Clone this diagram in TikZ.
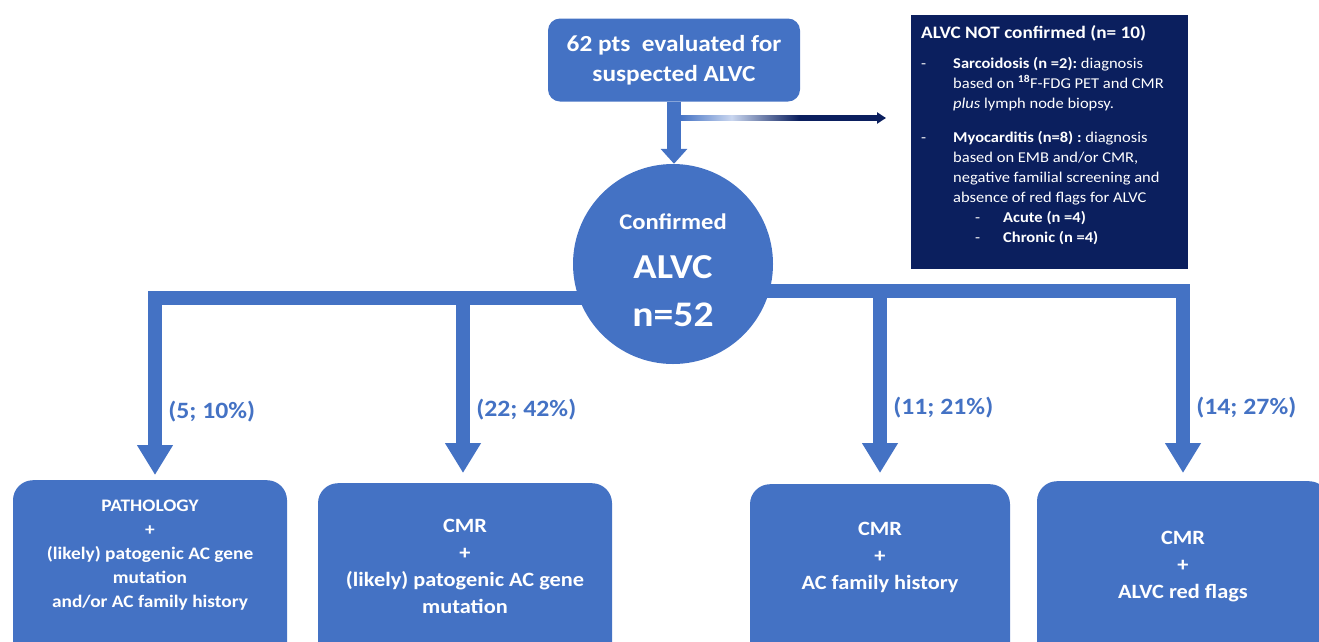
\documentclass[tikz,border=0pt]{standalone}
\usepackage{fontspec}
\setmainfont[FakeStretch=1.1]{Carlito}
\usetikzlibrary{arrows.meta,positioning}
\definecolor{boxblue}{HTML}{4472C4}
\definecolor{navyblue}{HTML}{0B1F5E}
\definecolor{fadeblue}{HTML}{C9D6EF}
\pgfdeclarehorizontalshading{arrowfade}{100bp}{color(0bp)=(boxblue); color(25bp)=(boxblue); color(38bp)=(fadeblue); color(55bp)=(navyblue); color(100bp)=(navyblue)}
\tikzstyle{Start}=[rectangle, rounded corners=12pt, fill=boxblue, text=white, font=\fontsize{23}{30}\selectfont\bfseries, align=center, minimum width=252pt, minimum height=83pt, inner sep=0pt]
\tikzstyle{Confirmed}=[circle, fill=boxblue, text=white, minimum size=200pt, inner sep=0pt, align=center, font=\bfseries]
\tikzstyle{Excluded}=[rectangle, fill=navyblue, text=white, anchor=north west, inner xsep=10pt, inner ysep=10pt, font=\fontsize{15}{20}\selectfont\frenchspacing]
\tikzstyle{Criteria}=[rectangle, rounded corners=20pt, fill=boxblue, text=white, anchor=north, align=center, text depth=100pt, font=\fontsize{20.3}{27}\selectfont\bfseries]
\tikzstyle{Share}=[text=boxblue, font=\fontsize{23.4}{23.4}\selectfont\bfseries]
\tikzstyle{arrow}=[line width=14pt, draw=boxblue, -{Triangle[width=34pt,length=30pt]}]
\pgfdeclarelayer{nodelayer}
\pgfdeclarelayer{edgelayer}
\pgfsetlayers{edgelayer,main,nodelayer}

\begin{document}
\begin{tikzpicture}[x=1pt, y=-1pt]
	\useasboundingbox (0,0) rectangle (1319,641);
	\begin{pgfonlayer}{nodelayer}
		\node [style=Start] (start) at (674,60) {62 pts\ \ evaluated for\\suspected ALVC};
		\node [style=Confirmed] (confirmed) at (673,264) {{\fontsize{22.4}{22.4}\selectfont\rule{0pt}{28pt}Confirmed}\\[25pt]{\fontsize{35}{35}\selectfont ALVC}\\[23pt]{\fontsize{36}{36}\selectfont n=52}};
		\node [style=Excluded] (notconf) at (911,15) {\parbox[c][234pt][t]{257pt}{\raggedright
			{\fontsize{17.5}{20}\selectfont\bfseries ALVC NOT confirmed (n= 10)}\\[10pt]
			\makebox[32pt][l]{-}\textbf{Sarcoidosis (n =2):} diagnosis\\
			\hspace*{32pt}based on \textbf{\textsuperscript{18}}F-FDG PET and CMR\\
			\hspace*{32pt}\textit{plus} lymph node biopsy.\\[14pt]
			\makebox[32pt][l]{-}\textbf{Myocarditis (n=8) :} diagnosis\\
			\hspace*{32pt}based on EMB and/or CMR,\\
			\hspace*{32pt}negative familial screening and\\
			\hspace*{32pt}absence of red flags for ALVC\\
			\hspace*{54pt}\makebox[28pt][l]{-}\textbf{Acute (n =4)}\\
			\hspace*{54pt}\makebox[28pt][l]{-}\textbf{Chronic (n =4)}}};

		% bottom row
		\node [style=Criteria, minimum width=274pt, inner ysep=20pt, font=\fontsize{17.6}{24}\selectfont\bfseries] (pathology) at (150,480) {PATHOLOGY\\+\\(likely) patogenic AC gene\\mutation\\and/or AC family history};
		\node [style=Criteria, minimum width=294pt, inner ysep=36pt] (cmrgene) at (465,483) {CMR\\+\\(likely) patogenic AC gene\\mutation};
		\node [style=Criteria, minimum width=260pt, inner ysep=38pt] (cmrfamily) at (880,484) {CMR\\+\\AC family history};
		\node [style=Criteria, minimum width=292pt, inner ysep=50pt] (cmrflags) at (1183,481) {CMR\\+\\ALVC red flags};
	\end{pgfonlayer}
	\begin{pgfonlayer}{edgelayer}
		\coordinate (branch) at (680,118);
		\coordinate (fadeend) at (878,118);
		\coordinate (splitleft) at (673,298);
		\coordinate (splitright) at (673,291);

		\shade [shading=arrowfade] ([yshift=2.5pt]branch) rectangle ([yshift=-2.5pt]fadeend);
		\draw [navyblue, line width=5pt, -{Triangle[width=11pt,length=9pt]}] ([xshift=-1pt]fadeend) -- ([xshift=-25pt]notconf.west |- fadeend);
		\draw [style=arrow, -{Triangle[width=26pt,length=15pt]}] (start.south) -- (start.south |- confirmed.north);

		\draw [style=arrow] (splitleft) -| ([xshift=5pt, yshift=5pt]pathology.north) node[Share, right=3pt, pos=0.82] {(5; 10\%)};
		\draw [style=arrow] (splitleft) -| ([xshift=-2pt, yshift=10pt]cmrgene.north) node[Share, right=3pt, pos=0.82] {(22; 42\%)};
		\draw [style=arrow] (splitright) -| ([yshift=11pt]cmrfamily.north) node[Share, right=3pt, pos=0.82] {(11; 21\%)};
		\draw [style=arrow] (splitright) -| ([yshift=8pt]cmrflags.north) node[Share, right=3pt, pos=0.82] {(14; 27\%)};
	\end{pgfonlayer}
\end{tikzpicture}
\end{document}
